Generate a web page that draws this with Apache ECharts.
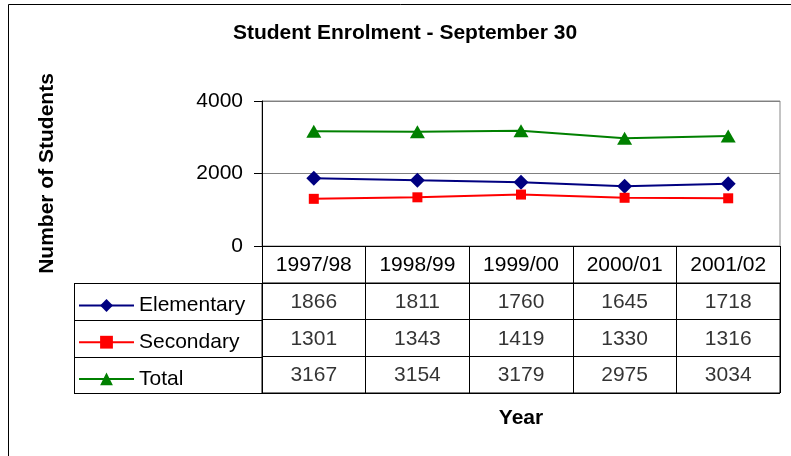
<!DOCTYPE html>
<html>
<head>
<meta charset="utf-8">
<script src="https://cdn.jsdelivr.net/npm/echarts@6/dist/echarts.min.js"></script>
<style>
  html, body { margin: 0; padding: 0; background: #fff; }
  #chart { width: 791px; height: 456px; }
</style>
</head>
<body>
<div id="chart"></div>
<script>
  var years = ['1997/98', '1998/99', '1999/00', '2000/01', '2001/02'];
  var rowNames = ['Elementary', 'Secondary', 'Total'];
  var elementary = [1866, 1811, 1760, 1645, 1718];
  var secondary = [1301, 1343, 1419, 1330, 1316];
  var total = [3167, 3154, 3179, 2975, 3034];
  var yTicks = [0, 2000, 4000];

  var FONT = '"Liberation Sans", Arial, sans-serif';
  var colors = ['#000080', '#FF0000', '#008000'];
  var symbols = ['diamond', 'rect', 'triangle'];
  var symbolSizes = [[15, 15], [10, 10], [15, 13]];
  var seriesData = [elementary, secondary, total];

  // table cells: [column, row, value]
  var cells = [];
  seriesData.forEach(function (arr, r) {
    arr.forEach(function (v, c) { cells.push([c, r, v]); });
  });

  var chart = echarts.init(document.getElementById('chart'));

  var lineSeries = rowNames.map(function (name, i) {
    return {
      name: name,
      type: 'line',
      xAxisIndex: 0,
      yAxisIndex: 0,
      data: seriesData[i],
      symbol: symbols[i],
      symbolSize: symbolSizes[i],
      itemStyle: { color: colors[i] },
      lineStyle: { color: colors[i], width: 2 },
      animation: false
    };
  });

  chart.setOption({
    backgroundColor: '#fff',
    title: {
      text: 'Student Enrolment - September 30',
      left: 405,
      textAlign: 'center',
      top: 23,
      padding: 0,
      textStyle: { fontFamily: FONT, fontSize: 21, fontWeight: 'bold', color: '#000' }
    },
    legend: {
      orient: 'vertical',
      left: 78,
      top: 295,
      padding: 0,
      itemWidth: 55,
      itemHeight: 16,
      itemGap: 15.7,
      data: rowNames,
      textStyle: { fontFamily: FONT, fontSize: 21, color: '#000', lineHeight: 21, padding: [0, 0, 0, 0] },
      selectedMode: false
    },
    grid: [
      { left: 262, top: 101, width: 518, height: 145, show: true, borderColor: '#888', borderWidth: 1 },
      { left: 262, top: 283, width: 518, height: 110, show: true, borderColor: '#000', borderWidth: 1 }
    ],
    xAxis: [
      {
        gridIndex: 0,
        type: 'category',
        data: years,
        boundaryGap: true,
        axisLine: { lineStyle: { color: '#000', width: 1 } },
        axisTick: { show: true, length: 37, lineStyle: { color: '#000' } },
        axisLabel: { fontFamily: FONT, fontSize: 21, color: '#000', margin: 9 }
      },
      {
        gridIndex: 1,
        type: 'category',
        data: years,
        boundaryGap: true,
        axisLine: { show: false },
        axisTick: { show: false },
        axisLabel: { show: false },
        splitLine: { show: true, lineStyle: { color: '#000', width: 1 } },
        name: 'Year',
        nameLocation: 'middle',
        nameGap: 15,
        nameTextStyle: { fontFamily: FONT, fontSize: 21, fontWeight: 'bold', color: '#000', verticalAlign: 'top' }
      }
    ],
    yAxis: [
      {
        gridIndex: 0,
        type: 'value',
        min: 0,
        max: 4000,
        interval: 2000,
        axisLine: { show: true, lineStyle: { color: '#000', width: 1 } },
        axisTick: { show: true, length: 8, lineStyle: { color: '#000' } },
        axisLabel: {
          fontFamily: FONT, fontSize: 21, color: '#000', margin: 19,
          formatter: function (v) { return yTicks.indexOf(v) >= 0 ? String(v) : ''; }
        },
        splitLine: { show: true, lineStyle: { color: '#808080', width: 1 } },
        name: 'Number of Students',
        nameLocation: 'middle',
        nameGap: 204,
        nameRotate: 90,
        nameTextStyle: { fontFamily: FONT, fontSize: 21, fontWeight: 'bold', color: '#000' }
      },
      {
        gridIndex: 1,
        type: 'category',
        data: rowNames,
        inverse: true,
        boundaryGap: true,
        axisLine: { show: false },
        axisTick: { show: false },
        axisLabel: { show: false },
        splitLine: { show: true, lineStyle: { color: '#000', width: 1 } }
      }
    ],
    series: lineSeries.concat([
      {
        name: 'table',
        type: 'scatter',
        xAxisIndex: 1,
        yAxisIndex: 1,
        data: cells,
        symbolSize: 1,
        itemStyle: { color: 'rgba(0,0,0,0)' },
        silent: true,
        animation: false,
        label: {
          show: true,
          position: 'inside',
          offset: [0, 1],
          fontFamily: FONT,
          fontSize: 21,
          color: '#000',
          formatter: function (p) { return String(p.value[2]); }
        }
      }
    ]),
    graphic: [
      // outer chart frame
      { type: 'rect', shape: { x: 8.5, y: 4.5, width: 900, height: 600 }, style: { fill: 'none', stroke: '#000', lineWidth: 1 }, silent: true },
      // legend column borders of the data table
      { type: 'line', shape: { x1: 74.5, y1: 283.5, x2: 74.5, y2: 393.5 }, style: { stroke: '#000', lineWidth: 1 } },
      { type: 'line', shape: { x1: 74, y1: 283.5, x2: 262, y2: 283.5 }, style: { stroke: '#000', lineWidth: 1 } },
      { type: 'line', shape: { x1: 74, y1: 320.5, x2: 262, y2: 320.5 }, style: { stroke: '#000', lineWidth: 1 } },
      { type: 'line', shape: { x1: 74, y1: 357.5, x2: 262, y2: 357.5 }, style: { stroke: '#000', lineWidth: 1 } },
      { type: 'line', shape: { x1: 74, y1: 393.5, x2: 262, y2: 393.5 }, style: { stroke: '#000', lineWidth: 1 } }
    ]
  });
</script>
</body>
</html>
